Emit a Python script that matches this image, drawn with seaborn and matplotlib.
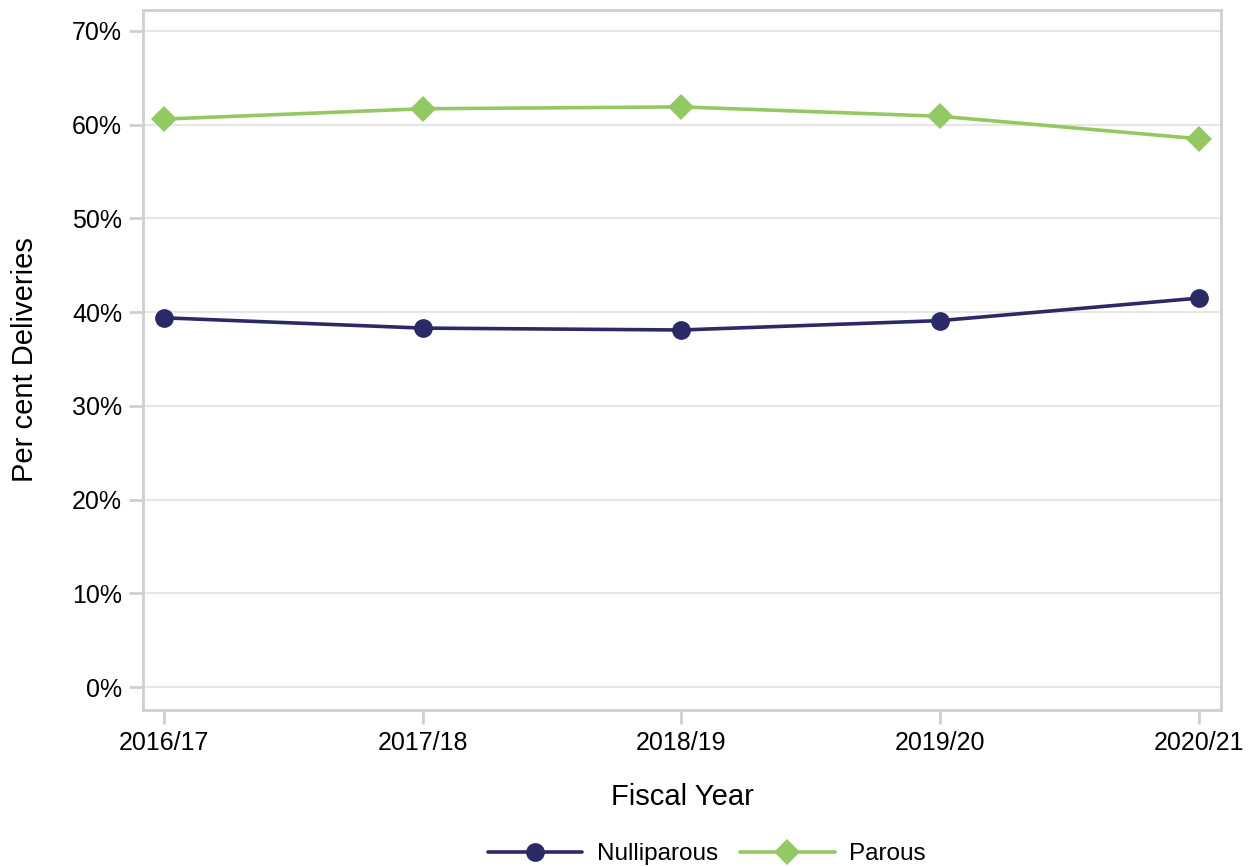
import pandas as pd
import matplotlib
matplotlib.use('Agg')
import matplotlib.pyplot as plt
import seaborn as sns
from matplotlib.ticker import PercentFormatter

# data
years = ['2016/17', '2017/18', '2018/19', '2019/20', '2020/21']
nulliparous = [39.4, 38.3, 38.1, 39.1, 41.5]
parous = [60.6, 61.7, 61.9, 60.9, 58.5]

df = pd.DataFrame({
    'year': years * 2,
    'pct': nulliparous + parous,
    'group': ['Nulliparous'] * 5 + ['Parous'] * 5,
})
df['x'] = df['year'].map({y: i for i, y in enumerate(years)})

sns.set_style('white')
plt.rcParams['font.family'] = ['Liberation Sans', 'DejaVu Sans']
plt.rcParams['text.color'] = 'black'
plt.rcParams['axes.labelcolor'] = 'black'

fig = plt.figure(figsize=(12.51, 8.67), dpi=100)
ax = fig.add_axes([0.1143, 0.181, 0.8617, 0.8075])

palette = {'Nulliparous': '#2b2a66', 'Parous': '#93c862'}
sns.lineplot(data=df, x='x', y='pct', hue='group', style='group',
             markers={'Nulliparous': 'o', 'Parous': 'D'}, dashes=False,
             palette=palette, linewidth=2.6, markersize=13.5,
             markeredgewidth=0, ax=ax)

ax.set_xlim(-0.081, 4.085)
ax.set_ylim(-2.45, 72.24)
ax.set_xticks(range(len(years)))
ax.set_xticklabels(years)
ax.set_yticks(range(0, 71, 10))
ax.yaxis.set_major_formatter(PercentFormatter(decimals=0))
ax.grid(axis='y', color='#e6e6e6', linewidth=1.5)
ax.set_axisbelow(True)

for s in ax.spines.values():
    s.set_color('#cfcfcf')
    s.set_linewidth(2)

ax.tick_params(axis='both', bottom=True, left=True, length=10, width=2,
               color='#cfcfcf', labelsize=18, labelcolor='black', pad=5)
ax.set_xlabel('Fiscal Year', fontsize=21, labelpad=20)
ax.set_ylabel('Per cent Deliveries', fontsize=21, labelpad=24)

handles, labels = ax.get_legend_handles_labels()
ax.get_legend().remove()
fig.legend(handles, labels, loc='lower center', ncol=2, frameon=False,
           fontsize=17.5, handlelength=3.9, handletextpad=0.6,
           columnspacing=0.9, bbox_to_anchor=(0.565, -0.023))

fig.savefig('out.png', dpi=100)
